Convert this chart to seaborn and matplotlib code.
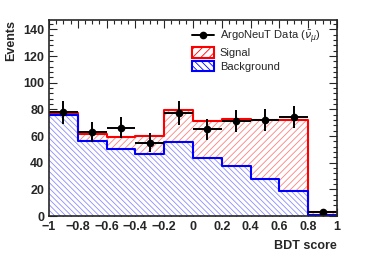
import numpy as np
import matplotlib
matplotlib.use("Agg")
import matplotlib.pyplot as plt
import seaborn as sns
from matplotlib.patches import Patch
from matplotlib.lines import Line2D

# BDT score bins (width 0.2)
bin_edges = [-1.0, -0.8, -0.6, -0.4, -0.2, 0.0, 0.2, 0.4, 0.6, 0.8, 1.0]
bin_centers = [-0.9, -0.7, -0.5, -0.3, -0.1, 0.1, 0.3, 0.5, 0.7, 0.9]

# stacked MC: background + signal
background = [75.5, 56.4, 50.4, 46.6, 55.4, 43.6, 37.4, 27.4, 19.0, 1.0]
signal = [1.7, 5.2, 8.6, 13.4, 23.9, 27.5, 35.0, 44.4, 52.8, 2.0]

# ArgoNeuT data
data_counts = [77.8, 63.0, 66.2, 55.0, 77.3, 65.1, 71.3, 71.9, 74.3, 3.0]
data_err = [8.7, 7.6, 8.0, 7.0, 8.7, 8.0, 8.5, 8.5, 8.5, 1.0]

x_tick_values = [-1, -0.8, -0.6, -0.4, -0.2, 0, 0.2, 0.4, 0.6, 0.8, 1]
x_tick_labels = ["\u22121", "\u22120.8", "\u22120.6", "\u22120.4", "\u22120.2",
                 "0", "0.2", "0.4", "0.6", "0.8", "1"]
y_tick_values = [0, 20, 40, 60, 80, 100, 120, 140]

sns.set_style("ticks")
plt.rcParams["font.family"] = ["Liberation Sans", "DejaVu Sans"]
plt.rcParams["hatch.linewidth"] = 0.6

total = [b + s for b, s in zip(background, signal)]
red_hatch = (1, 0, 0, 0.5)
blue_hatch = (0, 0, 1, 0.45)
red_pattern = "/////"
blue_pattern = "\\\\\\\\\\\\"

fig = plt.figure(figsize=(3.74, 2.54), dpi=100)
ax = fig.add_axes([0.131, 0.1496, 0.77, 0.7714])

# signal stacked on background (drawn as total), hatch then outline
sns.histplot(x=bin_centers, weights=total, bins=bin_edges, element="step",
             fill=True, facecolor="white", edgecolor=red_hatch, hatch=red_pattern,
             linewidth=0, ax=ax)
sns.histplot(x=bin_centers, weights=total, bins=bin_edges, element="step",
             fill=False, color="red", linewidth=1.5, ax=ax)
sns.histplot(x=bin_centers, weights=background, bins=bin_edges, element="step",
             fill=True, facecolor="white", edgecolor=blue_hatch, hatch=blue_pattern,
             linewidth=0, ax=ax)
sns.histplot(x=bin_centers, weights=background, bins=bin_edges, element="step",
             fill=False, color="blue", linewidth=1.5, ax=ax)

ax.errorbar(bin_centers, data_counts, yerr=data_err, xerr=0.1, fmt="o",
            color="black", markersize=4.5, elinewidth=1.4, capsize=0, zorder=5)

ax.set_xlim(-1, 1)
ax.set_ylim(0, 147)
ax.set_xticks(x_tick_values)
ax.set_xticklabels(x_tick_labels)
ax.set_yticks(y_tick_values)
ax.set_xticks(np.arange(-1, 1.001, 0.05), minor=True)
ax.set_yticks(np.arange(0, 147, 4), minor=True)
ax.tick_params(which="both", direction="in", top=True, right=True, width=0.8)
ax.tick_params(which="major", length=6, labelsize=9, pad=3.5)
ax.tick_params(which="minor", length=3)
for lbl in ax.get_xticklabels() + ax.get_yticklabels():
    lbl.set_fontweight("bold")
for sp in ax.spines.values():
    sp.set_linewidth(1.2)
    sp.set_visible(True)
    sp.set_zorder(6)

ax.set_xlabel("BDT score", loc="right", fontsize=9, fontweight="bold", labelpad=5)
ax.set_ylabel("Events", loc="top", fontsize=9, fontweight="bold", labelpad=4)

handles = [
    Line2D([], [], color="black", marker="o", markersize=4.5, lw=1.4),
    Patch(facecolor="white", edgecolor="red", hatch="////", lw=1.5),
    Patch(facecolor="white", edgecolor="blue", hatch="\\\\\\\\\\", lw=1.5),
]
labels = [r"ArgoNeuT Data ($\bar{\nu}_{\mu}$)", "Signal", "Background"]
ax.legend(handles, labels, loc="upper left", bbox_to_anchor=(0.466, 1.0),
          frameon=False, fontsize=8, handlelength=2.0, handleheight=1.1,
          handletextpad=0.55, labelspacing=0.2, borderaxespad=0.35)

fig.savefig("out.png", dpi=100)
